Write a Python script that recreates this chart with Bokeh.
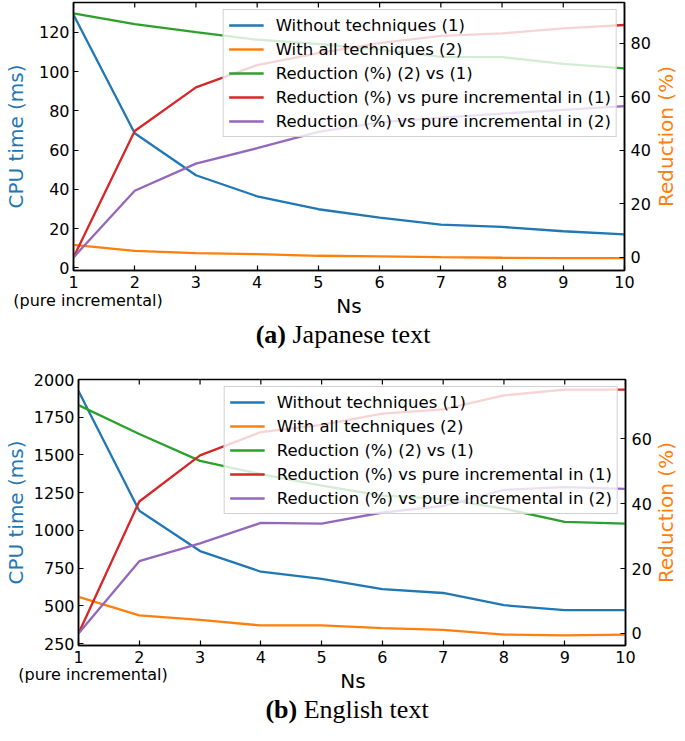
import math
from bokeh.plotting import figure
from bokeh.models import LinearAxis, Range1d, Legend, LegendItem, FixedTicker, Div
from bokeh.core.properties import value
from bokeh.layouts import column, row
from bokeh.embed import file_html
from bokeh.resources import INLINE

# ---------------- data ----------------
ns = [1, 2, 3, 4, 5, 6, 7, 8, 9, 10]

# (a) Japanese text
jp_without = [129.0, 68.6, 47.2, 36.5, 29.9, 25.6, 22.1, 20.9, 18.7, 17.1]
jp_with = [11.7, 8.7, 7.5, 7.0, 6.2, 5.9, 5.5, 5.2, 5.0, 5.0]
jp_red_2v1 = [91.1, 87.1, 84.1, 81.3, 79.7, 77.6, 74.9, 74.8, 72.3, 70.6]
jp_red_pure1 = [0.0, 47.2, 63.5, 71.8, 76.3, 80.0, 82.7, 83.7, 85.5, 86.8]
jp_red_pure2 = [0.0, 24.9, 35.0, 40.8, 46.9, 50.4, 52.2, 53.7, 55.1, 56.5]

# (b) English text
en_without = [1924, 1130, 863, 726, 678, 611, 585, 504, 472, 472]
en_with = [559, 437, 407, 370, 370, 352, 341, 309, 304, 309]
en_red_2v1 = [70.4, 61.5, 53.2, 49.1, 45.6, 42.5, 41.5, 38.5, 34.4, 33.9]
en_red_pure1 = [0.0, 40.7, 54.9, 62.1, 64.3, 67.8, 69.1, 73.4, 75.2, 75.2]
en_red_pure2 = [0.0, 22.3, 27.8, 34.1, 33.9, 37.3, 39.3, 44.3, 45.1, 44.6]

series_labels = [
    "Without techniques (1)",
    "With all techniques (2)",
    "Reduction (%) (2) vs (1)",
    "Reduction (%) vs pure incremental in (1)",
    "Reduction (%) vs pure incremental in (2)",
]
colors = ["#1f77b4", "#ff7f0e", "#2ca02c", "#d62728", "#9467bd"]

jp_left_ticks = [0, 20, 40, 60, 80, 100, 120]
jp_right_ticks = [0, 20, 40, 60, 80]
en_left_ticks = [250, 500, 750, 1000, 1250, 1500, 1750, 2000]
en_right_ticks = [0, 20, 40, 60]

x_label = "Ns"
left_label = "CPU time (ms)"
right_label = "Reduction (%)"
first_tick_note = "(pure incremental)"

FONT = "DejaVu Sans"
SERIF = "Liberation Serif"
W = 677  # full usable page width


def style_axis(ax, ticks, size="16px"):
    ax.ticker = FixedTicker(ticks=ticks)
    ax.major_label_text_font = FONT
    ax.major_label_text_font_size = size
    ax.major_label_text_color = "black"
    ax.major_tick_in = 5
    ax.major_tick_out = 0
    ax.minor_tick_line_color = None
    ax.major_tick_line_color = "black"
    ax.major_tick_line_width = 1.2
    ax.axis_line_color = "black"
    ax.axis_line_width = 1.5
    ax.axis_label_text_font = FONT
    ax.axis_label_text_font_style = "normal"
    ax.axis_label_text_font_size = "20px"


def make_panel(cpu1, cpu2, r21, rp1, rp2, yl, yr, lticks, rticks,
               width, height, mb_left, mb_top, mb_bottom, label_standoff):
    p = figure(width=width, height=height, output_backend="svg",
               toolbar_location=None, x_range=Range1d(1, 10),
               y_range=Range1d(*yl), x_axis_location=None, y_axis_location=None,
               min_border_left=mb_left, min_border_right=20,
               min_border_top=mb_top, min_border_bottom=mb_bottom)
    p.extra_y_ranges = {"right": Range1d(*yr)}
    p.xgrid.visible = False
    p.ygrid.visible = False
    p.outline_line_color = "black"
    p.outline_line_width = 1.5
    p.background_fill_color = "white"
    p.border_fill_color = "white"

    bottom = LinearAxis()
    style_axis(bottom, ns)
    bottom.major_label_standoff = 5
    p.add_layout(bottom, "below")

    left = LinearAxis(axis_label=left_label)
    style_axis(left, lticks)
    left.major_label_standoff = 4
    left.axis_label_standoff = label_standoff
    left.axis_label_text_color = colors[0]
    p.add_layout(left, "left")

    right = LinearAxis(y_range_name="right")
    style_axis(right, rticks)
    right.major_label_standoff = 6
    p.add_layout(right, "right")

    # inward tick marks on the top spine
    p.scatter(ns, [yl[1]] * len(ns), marker="dash", size=10, angle=math.pi / 2,
              line_color="black", line_width=1.2)

    rends = []
    rends.append(p.line(ns, cpu1, line_color=colors[0], line_width=2.3))
    rends.append(p.line(ns, cpu2, line_color=colors[1], line_width=2.3))
    rends.append(p.line(ns, r21, line_color=colors[2], line_width=2.3, y_range_name="right"))
    rends.append(p.line(ns, rp1, line_color=colors[3], line_width=2.3, y_range_name="right"))
    rends.append(p.line(ns, rp2, line_color=colors[4], line_width=2.3, y_range_name="right"))

    legend = Legend(items=[LegendItem(label=l, renderers=[r]) for l, r in zip(series_labels, rends)],
                    location="top_right", margin=7, padding=5, spacing=4,
                    glyph_width=35, glyph_height=20, label_height=20, label_standoff=12,
                    label_text_font=FONT, label_text_font_size="16.5px",
                    label_text_color="black",
                    background_fill_color="white", background_fill_alpha=0.8,
                    border_line_color="#cccccc", border_line_alpha=0.9, border_line_width=1)
    p.add_layout(legend, "center")
    return p


def make_right_label(width, height, cx):
    r = figure(width=width, height=height, output_backend="svg", toolbar_location=None,
               x_range=Range1d(0, width), y_range=Range1d(0, 1),
               x_axis_location=None, y_axis_location=None,
               min_border_left=0, min_border_right=0, min_border_top=0, min_border_bottom=0)
    r.xgrid.visible = False
    r.ygrid.visible = False
    r.outline_line_color = None
    r.background_fill_color = "white"
    r.border_fill_color = "white"
    r.text(x=[cx], y=[0.5], text=[right_label], angle=math.pi / 2,
           text_font=value(FONT), text_font_size="20px", text_color=colors[1],
           text_align="center", text_baseline="middle")
    return r


def span(x, y, size, family, content):
    return (f'<span style="position:absolute;left:{x}px;top:{y}px;transform:translate(-50%,-50%);'
            f'white-space:nowrap;font-family:\'{family}\';font-size:{size}px;color:black;'
            f'line-height:1.15;">{content}</span>')


def make_caption(height, note_x, ns_x, cap_x, note_y, ns_y, cap_y, cap_bold, cap_text):
    html = (f'<div style="position:relative;width:{W}px;height:{height}px;">'
            + span(note_x, note_y, 16, FONT, first_tick_note)
            + span(ns_x, ns_y, 20, FONT, x_label)
            + span(cap_x, cap_y, 26, SERIF, f'<b>{cap_bold}</b> {cap_text}')
            + '</div>')
    return Div(text=html, width=W, height=height, margin=0)


# ---- panel (a)
WP1, H1 = 653, 294
p1 = make_panel(jp_without, jp_with, jp_red_2v1, jp_red_pure1, jp_red_pure2,
                (-1.3, 135.2), (-4.9, 95.2), jp_left_ticks, jp_right_ticks,
                width=WP1, height=H1, mb_left=73, mb_top=2, mb_bottom=24, label_standoff=8)
r1 = make_right_label(W - WP1, H1, 12)
c1 = make_caption(58, note_x=88, ns_x=349, cap_x=343, note_y=7, ns_y=12, cap_y=41,
                  cap_bold="(a)", cap_text="Japanese text")

# ---- panel (b)
WP2, H2 = 654, 317
p2 = make_panel(en_without, en_with, en_red_2v1, en_red_pure1, en_red_pure2,
                (237, 2000), (-3.7, 78.3), en_left_ticks, en_right_ticks,
                width=WP2, height=H2, mb_left=71, mb_top=27, mb_bottom=24, label_standoff=3)
r2 = make_right_label(W - WP2, H2, 11.5)
c2 = make_caption(56, note_x=93, ns_x=353, cap_x=347, note_y=6, ns_y=12, cap_y=41,
                  cap_bold="(b)", cap_text="English text")

layout = column(row(p1, r1, spacing=0), c1, row(p2, r2, spacing=0), c2, spacing=0)
open("out.html", "w").write(file_html(layout, INLINE))
